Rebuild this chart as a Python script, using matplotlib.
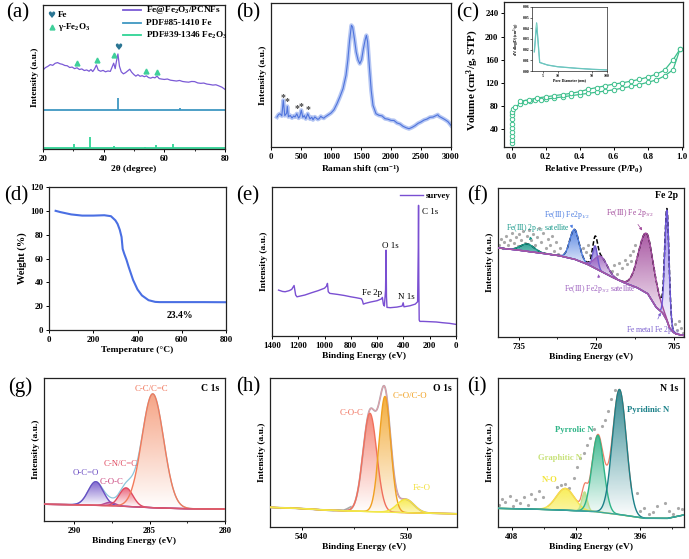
import numpy as np
import matplotlib
matplotlib.use("Agg")
import matplotlib.pyplot as plt
from matplotlib.patches import Polygon
from matplotlib.colors import to_rgb
from matplotlib.ticker import MultipleLocator, NullLocator, FormatStrFormatter

plt.rcParams["font.family"] = ["Liberation Serif", "DejaVu Serif"]
plt.rcParams["font.weight"] = "bold"
plt.rcParams["axes.labelweight"] = "bold"
plt.rcParams["mathtext.fontset"] = "custom"
plt.rcParams["mathtext.rm"] = "Liberation Serif"
plt.rcParams["mathtext.default"] = "regular"
plt.rcParams["axes.linewidth"] = 0.9
plt.rcParams["axes.edgecolor"] = "#222222"
plt.rcParams["xtick.labelsize"] = 6.3
plt.rcParams["ytick.labelsize"] = 6.3
plt.rcParams["axes.labelsize"] = 6.8

# ---------------- (a) XRD ----------------
xrd_2theta = [20, 20.8, 21.6, 22.4, 23.2, 24, 24.8, 25.6, 26.4, 27.2, 28, 28.8, 29.6, 30.4,
              31.2, 32, 32.8, 33.6, 34.4, 35.2, 35.8, 36.4, 37, 37.6, 38.2, 39, 39.8, 40.6,
              41.4, 42.2, 42.8, 43.3, 43.8, 44.2, 44.7, 45.2, 45.8, 46.5, 47.2, 47.9, 48.6,
              49.2, 49.9, 50.6, 51.3, 52, 52.7, 53.4, 54.1, 54.8, 55.5, 56.2, 56.9, 57.6,
              58.3, 59, 60, 61, 62, 63, 64, 65, 66, 67, 68, 69, 70, 71, 72, 73, 74, 75, 76,
              77, 78, 79, 80]
xrd_int = [54.9, 56.5, 57.4, 58.6, 58.1, 59.5, 60.0, 59.2, 58.8, 58.0, 57.8, 56.6, 56.9, 55.8,
           56.4, 55.2, 55.6, 54.5, 54.9, 54.0, 55.2, 53.8, 55.6, 58.3, 54.8, 54.0, 54.6, 53.6,
           54.2, 53.9, 57.0, 59.6, 55.8, 60.8, 66.0, 57.5, 53.6, 52.2, 53.0, 54.2, 55.4,
           53.4, 51.8, 50.6, 51.6, 50.5, 50.9, 50.2, 50.8, 49.6, 49.2, 49.8, 49.4, 50.6,
           48.9, 48.6, 48.3, 48.6, 47.8, 47.5, 47.2, 47.6, 46.9, 46.6, 46.4, 46.9, 46.8, 45.9,
           45.6, 45.8, 45.1, 44.8, 44.4, 44.6, 43.8, 42.9, 41.4]
fe_ref_pos = [44.67, 65.02]
fe_ref_rel = [100, 18]
fe2o3_ref_pos = [30.24, 35.63, 43.28, 53.73, 57.27, 62.93]
fe2o3_ref_rel = [37, 100, 19, 10, 28, 40]
fe_mark_pos = [44.7]
fe_mark_y = [70.6]
gfe2o3_mark_pos = [31.3, 37.8, 43.3, 53.8, 57.5]
gfe2o3_mark_y = [59.5, 62.0, 65.3, 54.4, 53.5]

# ---------------- (b) Raman ----------------
raman_shift = [100, 125, 150, 180, 205, 230, 260, 272, 290, 320, 350, 380, 400, 430, 460, 480,
               505, 530, 555, 580, 612, 650, 680, 700, 730, 750, 780, 800, 830, 850, 880, 900,
               950, 1000, 1050, 1100, 1150, 1200, 1250, 1280, 1310, 1340, 1360, 1390, 1420,
               1450, 1480, 1510, 1540, 1570, 1590, 1610, 1640, 1670, 1700, 1750, 1800, 1850,
               1900, 1950, 2000, 2050, 2100, 2150, 2200, 2250, 2300, 2350, 2400, 2450, 2500,
               2550, 2600, 2650, 2700, 2750, 2780, 2800, 2850, 2900, 2950, 3000]
raman_int = [20.8, 22.5, 23.1, 21.6, 32.4, 21.8, 23.4, 28.2, 21.0, 21.9, 20.2, 21.6, 20.8,
             23.1, 20.1, 21.2, 25.5, 20.6, 21.8, 19.6, 23.1, 19.5, 20.7, 18.9, 20.9, 20.2,
             19.2, 19.6, 21.3, 20.6, 20.0, 20.8, 22.2, 23.6, 25.9, 30.1, 35.0, 40.5, 49.8,
             60.2, 74.1, 84.5, 83.3, 75.2, 65.9, 60.6, 57.9, 60.6, 68.3, 74.5, 77.5, 73.1,
             55.6, 39.4, 28.9, 23.1, 22.0, 21.6, 19.7, 19.3, 18.5, 18.4, 16.7, 16.0, 14.4,
             13.4, 12.7, 13.6, 14.8, 16.4, 17.4, 18.7, 19.4, 20.6, 20.8, 21.8, 22.4, 21.3,
             20.2, 19.0, 17.6, 15.0]
raman_star_x = [206, 273, 428, 506, 612]
raman_star_y = [34.5, 31.5, 26.5, 28.0, 26.2]

# ---------------- (c) N2 isotherm ----------------
ads_p = [0.002, 0.002, 0.002, 0.002, 0.002, 0.003, 0.003, 0.004, 0.005, 0.008, 0.02, 0.05,
         0.08, 0.11, 0.14, 0.17, 0.2, 0.25, 0.3, 0.35, 0.4, 0.45, 0.5, 0.55, 0.6, 0.65, 0.7,
         0.75, 0.8, 0.85, 0.9, 0.95, 0.99]
ads_v = [16, 22, 28, 35, 42, 50, 57, 64, 70, 75, 78, 84, 87, 88, 90, 91, 92, 94, 96, 98, 100,
         102, 104, 106, 108, 111, 114, 117, 121, 125, 132, 143, 178]
des_p = [0.99, 0.95, 0.9, 0.85, 0.8, 0.75, 0.7, 0.65, 0.6, 0.55, 0.5, 0.45, 0.4, 0.35, 0.3,
         0.25, 0.2, 0.15, 0.1, 0.05]
des_v = [178, 160, 142, 135, 130, 126, 123, 120, 118, 115, 112, 109, 105, 102, 100, 98, 96,
         94, 91, 88]
pore_d = [3.35, 3.72, 4.3, 6.2, 10, 25, 50, 100]
pore_dv = [0.018, 0.045, 0.008, 0.0056, 0.004, 0.0025, 0.0016, 0.001]

# ---------------- (d) TGA ----------------
tga_t = [30, 50, 100, 150, 200, 250, 280, 300, 310, 320, 328, 333, 340, 350, 360, 380, 400,
         420, 450, 480, 500, 600, 700, 800]
tga_w = [100, 99, 97, 96, 96, 96.3, 95.5, 92, 89, 84, 78, 68, 64, 59, 53, 42, 34, 29, 25,
         23.6, 23.4, 23.4, 23.4, 23.3]

# ---------------- (e) XPS survey ----------------
survey_be = [1350, 1320, 1300, 1270, 1250, 1232, 1220, 1210, 1150, 1100, 1050, 1000, 985, 978,
             972, 960, 900, 850, 800, 760, 720, 712, 705, 690, 650, 600, 565, 560, 553, 545,
             536, 532, 529, 525, 500, 450, 410, 402, 396, 350, 310, 300, 292, 287, 285, 283,
             280, 275, 250, 200, 150, 100, 50, 0]
survey_int = [30.8, 29.9, 29.7, 30.4, 31.3, 33.9, 27.5, 26.3, 27.5, 29.0, 30.4, 32.1, 33.5,
              35.3, 29.7, 28.6, 27.9, 27.2, 26.3, 25.7, 25.0, 23.7, 21.4, 21.9, 22.8, 23.7,
              25.0, 25.9, 21.4, 20.1, 30.8, 57.6, 26.3, 19.2, 19.0, 19.4, 20.1, 22.3, 19.6,
              20.3, 21.4, 22.3, 23.0, 59.8, 87.7, 37.5, 10.7, 9.8, 9.8, 9.6, 9.4, 8.9, 8.5, 7.8]

# ---------------- (f) Fe 2p ----------------
fe_bg_be = [739.5, 737, 735, 733, 730, 727, 724, 721.5, 719, 716.5, 714.3, 712, 710, 708.4,
            707.1, 706.3, 705.8, 705.0, 704.5, 703]
fe_bg_int = [60, 59, 58.3, 57.3, 56, 54.5, 52, 48.5, 44, 39.5, 36, 33, 29, 20, 16, 11, 6,
             3, 2, 1]
fe_centers = [733.3, 724.2, 720.2, 719.1, 710.3, 706.3]
fe_heights = [5.0, 20.0, 15.0, 10.0, 40.0, 74.0]
fe_sigmas = [1.3, 0.9, 0.45, 1.2, 1.5, 0.42]
fe_raw_be = [738.8, 738.5, 738.1, 737.8, 737.4, 737.0, 736.7, 736.3, 736.0, 735.6, 735.2,
             734.9, 734.5, 734.1, 733.8, 733.4, 733.0, 732.6, 732.2, 731.8, 731.4, 731.0,
             730.6, 730.2, 729.8, 729.4, 729.0, 728.6, 728.2, 727.8, 727.4, 727.0, 722.5,
             722.0, 721.6, 721.2, 717.0, 716.5, 716.0, 715.5, 715.0, 714.5, 714.0, 713.5,
             713.2, 712.8, 712.4, 704.7, 704.3, 703.9, 703.5, 703.2]
fe_raw_int = [62, 66, 60, 64, 68, 62, 65, 70, 63, 67, 61, 69, 65, 71, 63, 68, 72, 65, 69, 62,
              67, 73, 64, 70, 60, 66, 62, 68, 58, 64, 56, 60, 60, 57, 62, 55, 44, 48, 42, 50,
              46, 52, 49, 55, 51, 58, 62, 9, 5, 11, 6, 3]

# ---------------- (g) C 1s ----------------
c1s_bg_be = [292, 290, 288.3, 287, 286, 285, 284, 283, 282, 280]
c1s_bg_int = [11.7, 11.4, 10.9, 10.4, 9.9, 9.4, 9.0, 8.7, 8.5, 8.4]
c1s_centers = [288.57, 287.6, 286.56, 284.79]
c1s_heights = [16.5, 2.5, 13.0, 79.6]
c1s_sigmas = [0.5, 0.35, 0.45, 0.72]

# ---------------- (h) O 1s ----------------
o1s_bg_be = [543, 540, 537.3, 535, 533, 531, 529, 527, 525.2]
o1s_bg_int = [13.2, 12.4, 11.2, 10.7, 10.2, 9.8, 9.4, 9.1, 8.9]
o1s_raw_be = [543, 542, 541, 540, 539, 538, 537, 536.5, 536, 535.7, 535.3]
o1s_raw_int = [13.2, 12.6, 12.9, 12.3, 12.0, 11.4, 11.0, 11.4, 11.2, 12.1, 13.6]
o1s_centers = [533.49, 532.06, 530.1]
o1s_heights = [66.0, 77.6, 9.0]
o1s_sigmas = [0.65, 0.55, 0.8]

# ---------------- (i) N 1s ----------------
n1s_bg_be = [409.3, 406, 403.3, 400.2, 397.7, 395.5, 393.4, 391.9]
n1s_bg_int = [12.5, 12, 11.4, 10.3, 8.1, 5.8, 5.8, 8.1]
n1s_centers = [403.0, 401.2, 399.96, 397.94]
n1s_heights = [14.6, 12.9, 51.4, 84.0]
n1s_sigmas = [0.85, 0.25, 0.55, 0.65]
n1s_raw_be = [409.2, 408.9, 408.6, 408.2, 407.9, 407.6, 407.2, 406.9, 406.5, 406.2, 405.8,
              405.5, 405.1, 403.8, 403.4, 403.0, 402.7, 402.2, 401.9, 401.6, 401.3, 401.0,
              400.7, 400.3, 399.6, 399.3, 399.0, 398.7, 398.4, 396.3, 396.0, 395.6, 395.2,
              394.8, 394.4, 393.7, 393.3, 392.9, 392.5, 392.1]
n1s_raw_int = [15, 19, 17, 21, 14, 18, 16, 20, 15, 22, 19, 24, 20, 27, 28, 29, 26, 33, 40,
               46, 50, 55, 60, 66, 68, 72, 78, 86, 92, 23, 11, 13, 9, 10, 14, 16, 11, 9, 13, 12]

W, H = 689, 559
fig = plt.figure(figsize=(W / 100, H / 100), dpi=100)


def add_ax(l, t, r, b):
    return fig.add_axes([l / W, 1 - b / H, (r - l) / W, (b - t) / H])


def style(ax, hide_y=True):
    ax.tick_params(direction="out", length=2.5, width=0.7, pad=1.5)
    ax.tick_params(which="minor", direction="out", length=1.5, width=0.6)
    if hide_y:
        ax.yaxis.set_major_locator(NullLocator())
        ax.set_ylabel("Intensity (a.u.)", labelpad=3)


def panel_label(x, y, s):
    fig.text(x / W, 1 - y / H, s, fontsize=15, fontweight="normal", ha="center", va="center")


def gauss(x, c, h, s):
    return h * np.exp(-0.5 * ((x - c) / s) ** 2)


def grad_fill(ax, x, lo, hi, color, a_top=0.9, a_bot=0.0, z=2):
    comp = hi - lo
    m = comp > 0.005 * comp.max()
    xs, l, h = x[m], lo[m], hi[m]
    verts = np.column_stack([np.r_[xs, xs[::-1]], np.r_[h, l[::-1]]])
    poly = Polygon(verts, closed=True, fc="none", ec="none")
    ax.add_patch(poly)
    rgba = np.ones((256, 1, 4))
    rgba[:, 0, :3] = to_rgb(color)
    rgba[:, 0, 3] = np.linspace(a_bot, a_top, 256)
    im = ax.imshow(rgba, extent=[xs.min(), xs.max(), l.min(), h.max()], origin="lower",
                   aspect="auto", zorder=z, interpolation="bilinear")
    im.set_clip_path(poly)


def xps(ax, lim, bg_x, bg_y, centers, heights, sigmas, fills, lines, bg_color, lw=1.0,
        a_bots=None):
    grid = np.linspace(min(lim), max(lim), 900)
    order = np.argsort(bg_x)
    bg = np.interp(grid, np.asarray(bg_x)[order], np.asarray(bg_y)[order])
    comps = []
    for k, (c, h, s) in enumerate(zip(centers, heights, sigmas)):
        comp = gauss(grid, c, h, s)
        comps.append(comp)
        ab = 0.0 if a_bots is None else a_bots[k]
        grad_fill(ax, grid, bg, bg + comp, fills[k], a_bot=ab, z=2 + 0.01 * k)
        ax.plot(grid, bg + comp, color=lines[k], lw=lw, zorder=3)
    ax.plot(bg_x, bg_y, color=bg_color, lw=1.0, zorder=3.5)
    return grid, bg + np.sum(comps, axis=0)


# ---------------- (a) ----------------
ax = add_ax(43, 5, 225, 149)
style(ax)
ax.plot(xrd_2theta, xrd_int, color="#7b5ad6", lw=0.9)
fe_base, o_base, stick_scale = 27, 0.5, 0.081
ax.plot([20, 80], [fe_base, fe_base], color="#3f97c2", lw=1.3)
ax.vlines(fe_ref_pos, fe_base, fe_base + np.array(fe_ref_rel) * stick_scale, color="#3f97c2", lw=1.3)
ax.plot([20, 80], [o_base, o_base], color="#2fd495", lw=1.3)
ax.vlines(fe2o3_ref_pos, o_base, o_base + np.array(fe2o3_ref_rel) * stick_scale, color="#2fd495", lw=1.3)
for x, y in zip(fe_mark_pos, fe_mark_y):
    ax.text(x, y, "\u2665", color="#2a7593", fontsize=6.5, ha="center", va="center",
            family="DejaVu Sans")
ax.plot(gfe2o3_mark_pos, gfe2o3_mark_y, "^", color="#3fcf9a", ms=3.5, ls="none")
ax.text(0.048, 0.93, "\u2665", color="#2a7593", fontsize=6.5, ha="center", va="center",
        family="DejaVu Sans", transform=ax.transAxes)
ax.text(0.08, 0.93, "Fe", fontsize=6.5, va="center", transform=ax.transAxes)
ax.plot([0.048], [0.85], "^", color="#3fcf9a", ms=3.5, transform=ax.transAxes)
ax.text(0.08, 0.85, "\u03b3-Fe$_2$O$_3$", fontsize=6.5, va="center", transform=ax.transAxes)
for yy, col, lab in [(0.965, "#7b5ad6", "Fe@Fe$_2$O$_3$/PCNFs"),
                     (0.873, "#3f97c2", "PDF#85-1410 Fe"),
                     (0.79, "#2fd495", "PDF#39-1346 Fe$_2$O$_3$")]:
    ax.plot([0.44, 0.54], [yy, yy], color=col, lw=1.3, transform=ax.transAxes)
    ax.text(0.566, yy, lab, fontsize=6.7, va="center", transform=ax.transAxes)
ax.set_xlim(20, 80)
ax.set_ylim(0, 100)
ax.xaxis.set_major_locator(MultipleLocator(20))
ax.xaxis.set_minor_locator(MultipleLocator(10))
ax.set_xlabel("2\u03b8 (degree)", labelpad=2)
panel_label(18, 13, "(a)")

# ---------------- (b) ----------------
ax = add_ax(271, 3, 451, 147)
style(ax)
ax.plot(raman_shift, raman_int, color="#b5c6f3", lw=3.0, solid_joinstyle="round")
ax.plot(raman_shift, raman_int, color="#4f74dc", lw=0.8)
for x, y in zip(raman_star_x, raman_star_y):
    ax.text(x, y, "*", fontsize=7, color="#444444", ha="center", va="center")
ax.set_xlim(0, 3000)
ax.set_ylim(0, 100)
ax.xaxis.set_major_locator(MultipleLocator(500))
ax.set_xlabel("Raman shift (cm$^{-1}$)", labelpad=2)
panel_label(248, 13, "(b)")

# ---------------- (c) ----------------
ax = add_ax(504, 2, 683, 147)
style(ax, hide_y=False)
iso_col = "#3dbf8c"
ax.plot(ads_p, ads_v, "-o", color=iso_col, mfc="white", ms=3.2, mew=0.7, lw=0.9)
ax.plot(des_p, des_v, "-o", color=iso_col, mfc="white", ms=3.2, mew=0.7, lw=0.9)
ax.set_xlim(-0.045, 1.008)
ax.set_ylim(9.5, 259.5)
ax.xaxis.set_major_locator(MultipleLocator(0.2))
ax.set_yticks([40, 80, 120, 160, 200, 240])
ax.xaxis.set_major_formatter(FormatStrFormatter("%.1f"))
ax.set_xlabel("Relative Pressure (P/P$_0$)", labelpad=2)
ax.set_ylabel("Volume (cm$^3$/g, STP)", fontsize=8, labelpad=2)
ax.yaxis.set_label_coords(-0.13, 0.46)
ins = add_ax(532, 7, 607, 71)
ins.plot(pore_d, pore_dv, color="#3aa7b5", lw=0.9)
ins.plot(pore_d, pore_dv, color="#8fe0c0", lw=0.4)
ins.set_xscale("log")
ins.set_xlim(3, 100)
ins.set_ylim(0, 0.06)
ins.set_xticks([5, 10, 50, 100])
ins.set_xticklabels(["5", "10", "50", "100"])
ins.xaxis.set_minor_locator(NullLocator())
ins.set_yticks([0, 0.01, 0.02, 0.03, 0.04, 0.05, 0.06])
ins.yaxis.set_major_formatter(FormatStrFormatter("%.2f"))
ins.tick_params(labelsize=2.8, length=1.2, width=0.4, pad=0.8)
for s in ins.spines.values():
    s.set_linewidth(0.5)
ins.set_xlabel("Pore Diameter (nm)", fontsize=2.8, labelpad=0.5)
ins.set_ylabel("dV/dlog(D) (cm$^3$/g)", fontsize=2.8, labelpad=0.5)
panel_label(468, 13, "(c)")

# ---------------- (d) ----------------
ax = add_ax(49, 187, 226, 330)
style(ax, hide_y=False)
ax.plot(tga_t, tga_w, color="#4a6fe3", lw=1.5)
ax.text(590, 12, "23.4%", fontsize=7, ha="center", va="center")
ax.set_xlim(0, 800)
ax.set_ylim(0, 120)
ax.xaxis.set_major_locator(MultipleLocator(200))
ax.yaxis.set_major_locator(MultipleLocator(20))
ax.set_xlabel("Temperature (\u00b0C)", labelpad=2)
ax.set_ylabel("Weight (%)", fontsize=7.5, labelpad=2)
panel_label(16, 196, "(d)")

# ---------------- (e) ----------------
ax = add_ax(272, 187, 456, 336)
style(ax)
ln, = ax.plot(survey_be, survey_int, color="#7a4fd2", lw=1.0)
ax.legend([ln], ["survey"], loc="upper right", frameon=False, fontsize=6.3,
          handlelength=2.6, borderaxespad=0.2, handletextpad=0.4)
ax.text(255, 83, "C 1s", fontsize=6.5, fontweight="normal", ha="left", va="center")
ax.text(500, 60.3, "O 1s", fontsize=6.5, fontweight="normal", ha="center", va="center")
ax.text(640, 28.6, "Fe 2p", fontsize=6.5, fontweight="normal", ha="center", va="center")
ax.text(375, 25.9, "N 1s", fontsize=6.5, fontweight="normal", ha="center", va="center")
ax.set_xlim(1400, 0)
ax.set_ylim(0, 100)
ax.xaxis.set_major_locator(MultipleLocator(200))
ax.set_xlabel("Binding Energy (eV)", labelpad=2)
panel_label(248, 196, "(e)")

# ---------------- (f) ----------------
ax = add_ax(498, 188, 684, 337)
style(ax)
ax.scatter(fe_raw_be, fe_raw_int, s=1.6, color="#a9a9a9", zorder=1)
fe_fill = ["#17988a", "#4a7be0", "#7b66d6", "#9a5cbd", "#a0479a", "#8d7be6"]
fe_line = ["#17988a", "#4a7be0", "#6f5ad0", "#9a5cbd", "#a0479a", "#6b55d8"]
grid, env = xps(ax, (739, 703), fe_bg_be, fe_bg_int, fe_centers, fe_heights, fe_sigmas,
                fe_fill, fe_line, "#a9589f", a_bots=[0.6, 0.15, 0.2, 0.1, 0.0, 0.0])
ax.plot(grid, env, color="black", lw=1.1, ls=(0, (3, 1.5)), zorder=2.5)
fs = 5.5
arrow = dict(arrowstyle="-|>", lw=0.5, mutation_scale=4)
ax.annotate("Fe(III) 2p$_{1/2}$ satellite", xy=(733.3, 63.5), xytext=(731.2, 73),
            color="#17988a", fontsize=fs, fontweight="normal", ha="center", va="center",
            zorder=6, arrowprops=dict(arrow, color="#17988a"))
ax.annotate("Fe(III) Fe2p$_{1/2}$", xy=(724.6, 73), xytext=(725.6, 82),
            color="#4a7be0", fontsize=fs, fontweight="normal", ha="center", va="center",
            zorder=6, arrowprops=dict(arrow, color="#4a7be0"))
ax.annotate("Fe(III) Fe 2p$_{3/2}$", xy=(710.8, 70), xytext=(713.4, 83),
            color="#a0479a", fontsize=fs, fontweight="normal", ha="center", va="center",
            zorder=6, arrowprops=dict(arrow, color="#a0479a"))
ax.annotate("Fe(III) Fe2p$_{3/2}$ satellite", xy=(719.6, 44), xytext=(719.3, 32),
            color="#9a5cbd", fontsize=fs, fontweight="normal", ha="center", va="center",
            zorder=6, arrowprops=dict(arrow, color="#9a5cbd"))
ax.annotate("Fe metal Fe 2p$_{3/2}$", xy=(707.3, 18), xytext=(703.8, 4.5),
            color="#7a5fcf", fontsize=fs, fontweight="normal", ha="right", va="center",
            zorder=6, arrowprops=dict(arrow, color="#7a5fcf"))
ax.text(0.97, 0.95, "Fe 2p", fontsize=7, ha="right", va="center", transform=ax.transAxes)
ax.set_xlim(739, 703)
ax.set_ylim(0, 100)
ax.set_xticks([735, 720, 705])
ax.xaxis.set_minor_locator(MultipleLocator(7.5))
ax.set_xlabel("Binding Energy (eV)", labelpad=2)
panel_label(477, 196, "(f)")

# ---------------- (g) ----------------
ax = add_ax(44, 378, 225, 521)
style(ax)
grid, env = xps(ax, (292, 280), c1s_bg_be, c1s_bg_int, c1s_centers, c1s_heights, c1s_sigmas,
                ["#6e52c8", "#b04a9a", "#e8506a", "#f59a78"],
                ["#6a4cc2", "#b04a9a", "#e04a60", "#f37a5a"], "#d9566e")
ax.plot(grid, env, color="#8cc6dc", lw=0.9, zorder=2.6)
fs = 6.3
ax.text(284.86, 92.5, "C-C/C=C", color="#f07256", fontsize=fs, fontweight="normal", ha="center", va="center")
ax.text(286.95, 39.7, "C-N/C=C", color="#e04a60", fontsize=fs, fontweight="normal", ha="center", va="center")
ax.text(287.5, 27.1, "C-O-C", color="#c8407a", fontsize=fs, fontweight="normal", ha="center", va="center")
ax.text(289.2, 33.4, "O-C=O", color="#6a4cc2", fontsize=fs, fontweight="normal", ha="center", va="center")
ax.text(0.97, 0.93, "C 1s", fontsize=7, ha="right", va="center", transform=ax.transAxes)
ax.set_xlim(292, 280)
ax.set_ylim(0, 100)
ax.set_xticks([290, 285, 280])
ax.xaxis.set_minor_locator(MultipleLocator(2.5))
ax.set_xlabel("Binding Energy (eV)", labelpad=2)
panel_label(20, 387, "(g)")

# ---------------- (h) ----------------
ax = add_ax(270, 378, 457, 527)
style(ax)
ax.plot(o1s_raw_be, o1s_raw_int, color="#a8a8a8", lw=1.2, zorder=3)
grid, env = xps(ax, (543, 525.2), o1s_bg_be, o1s_bg_int, o1s_centers, o1s_heights, o1s_sigmas,
                ["#f47a68", "#f2a428", "#f7e83a"], ["#f0705c", "#f0a020", "#f3e43c"], "#f1e84a",
                a_bots=[0.0, 0.05, 0.35])
ax.plot(grid, env, color="#b3a2ab", lw=1.3, zorder=2.6)
ax.plot(grid, env, color="#f0a0a8", lw=0.5, zorder=2.7)
fs = 6.3
ax.text(535.2, 76.5, "C-O-C", color="#f0705c", fontsize=fs, fontweight="normal", ha="center", va="center")
ax.text(529.7, 87.7, "C=O/C-O", color="#f0a020", fontsize=fs, fontweight="normal", ha="center", va="center")
ax.text(528.6, 26.2, "Fe-O", color="#f2e03a", fontsize=fs, fontweight="normal", ha="center", va="center")
ax.text(0.97, 0.93, "O 1s", fontsize=7, ha="right", va="center", transform=ax.transAxes)
ax.set_xlim(543, 525.2)
ax.set_ylim(0, 100)
ax.set_xticks([540, 530])
ax.xaxis.set_minor_locator(MultipleLocator(5))
ax.set_xlabel("Binding Energy (eV)", labelpad=2)
panel_label(248, 387, "(h)")

# ---------------- (i) ----------------
ax = add_ax(498, 378, 684, 527)
style(ax)
ax.scatter(n1s_raw_be, n1s_raw_int, s=1.6, color="#a9a9a9", zorder=1)
grid, env = xps(ax, (409.3, 391.9), n1s_bg_be, n1s_bg_int, n1s_centers, n1s_heights, n1s_sigmas,
                ["#f8ec48", "#a8dc8c", "#2fb487", "#1d7f88"],
                ["#f4e64a", "#bfe08a", "#2fb487", "#1a8088"], "#3aa59d",
                a_bots=[0.5, 0.3, 0.05, 0.0])
m = (grid > 396.8) & (grid < 404.6)
ax.plot(grid[m], env[m], color="#f08066", lw=0.9, zorder=2.6)
fs = 6.2
ax.text(395.3, 78.7, "Pyridinic N", color="#1a8088", fontsize=fs, ha="center", va="center")
ax.text(402.2, 65.3, "Pyrrolic N", color="#2fb487", fontsize=fs, ha="center", va="center")
ax.text(403.5, 46.3, "Graphitic N", color="#c8e27a", fontsize=fs, ha="center", va="center")
ax.text(404.5, 31.8, "N-O", color="#f2e43a", fontsize=fs, ha="center", va="center")
ax.text(0.97, 0.93, "N 1s", fontsize=7, ha="right", va="center", transform=ax.transAxes)
ax.set_xlim(409.3, 391.9)
ax.set_ylim(0, 100)
ax.set_xticks([408, 402, 396])
ax.xaxis.set_minor_locator(MultipleLocator(3))
ax.set_xlabel("Binding Energy (eV)", labelpad=2)
panel_label(477, 387, "(i)")

fig.savefig("out.png", dpi=100)
